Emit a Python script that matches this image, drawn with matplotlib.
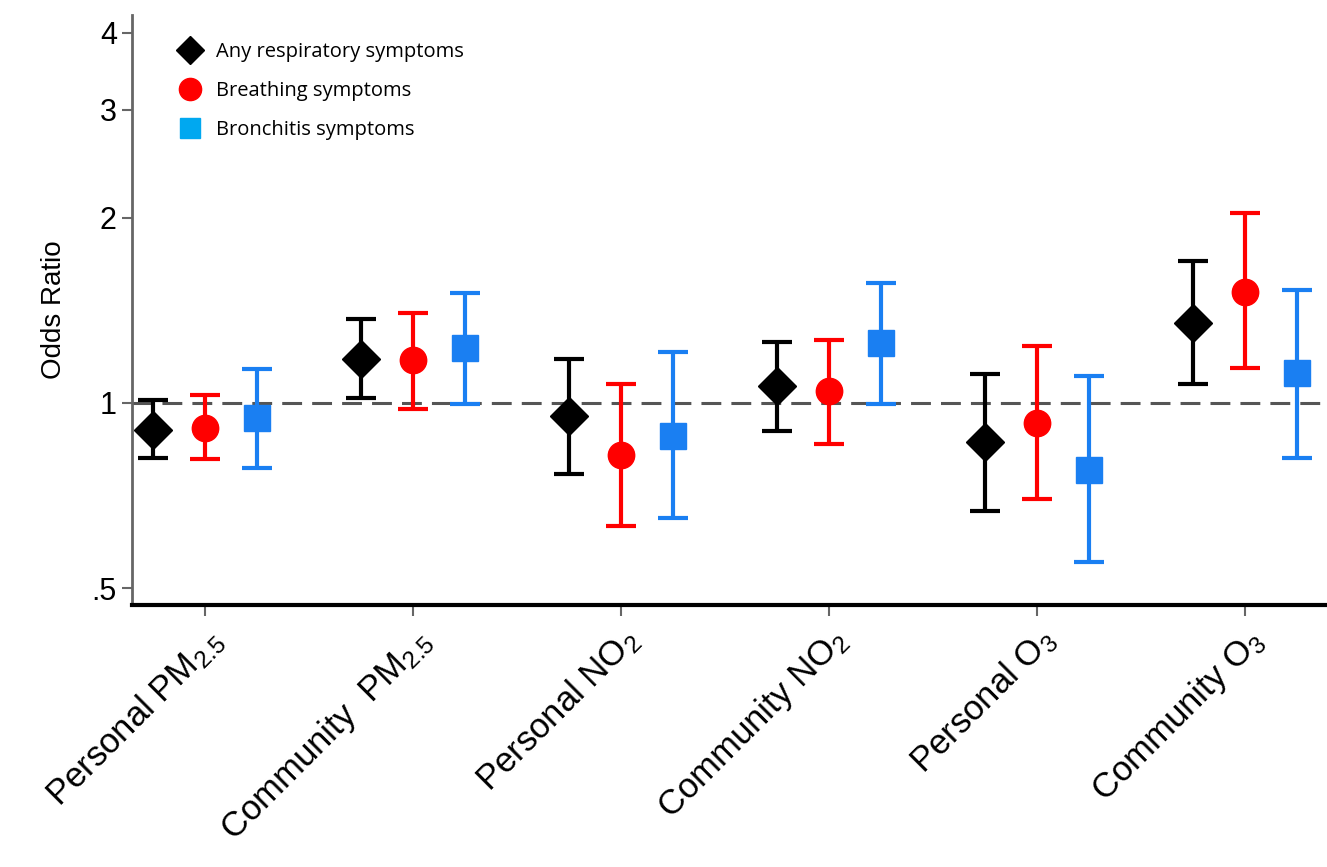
import matplotlib
matplotlib.use('Agg')
import matplotlib.pyplot as plt
import numpy as np
from matplotlib.lines import Line2D

plt.rcParams['font.family'] = ['Liberation Sans', 'DejaVu Sans']
plt.rcParams['mathtext.default'] = 'regular'

exposures = ['Personal PM$_{2.5}$', 'Community  PM$_{2.5}$', 'Personal NO$_2$',
             'Community NO$_2$', 'Personal O$_3$', 'Community O$_3$']

# odds ratios and 95% CI
any_or = [0.904, 1.179, 0.952, 1.066, 0.864, 1.349]
any_lo = [0.814, 1.02, 0.766, 0.90, 0.667, 1.074]
any_hi = [1.01, 1.37, 1.18, 1.257, 1.115, 1.702]

breath_or = [0.91, 1.175, 0.823, 1.046, 0.928, 1.515]
breath_lo = [0.81, 0.978, 0.631, 0.857, 0.698, 1.14]
breath_hi = [1.03, 1.40, 1.074, 1.266, 1.238, 2.04]

bronch_or = [0.945, 1.229, 0.884, 1.252, 0.778, 1.119]
bronch_lo = [0.784, 0.996, 0.65, 0.996, 0.551, 0.814]
bronch_hi = [1.136, 1.51, 1.21, 1.567, 1.106, 1.527]

fig = plt.figure(figsize=(13.27, 8.67), dpi=100)
ax = fig.add_axes([0.0995, 0.302, 0.899, 0.681])

x = np.arange(len(exposures))
ax.axhline(1, color='#555555', lw=2.2, ls=(0, (6.5, 3.3)), zorder=1)

series = [
    (any_or, any_lo, any_hi, -0.25, 'black', 'D', 19),
    (breath_or, breath_lo, breath_hi, 0.0, '#ff0000', 'o', 19),
    (bronch_or, bronch_lo, bronch_hi, 0.25, '#1a7ff2', 's', 19),
]
for est, lo, hi, off, col, mk, ms in series:
    est = np.array(est); lo = np.array(lo); hi = np.array(hi)
    ax.errorbar(x + off, est, yerr=[est - lo, hi - est], fmt=mk, color=col,
                ms=ms, elinewidth=3, capsize=11, capthick=3, zorder=3)

ax.set_yscale('log')
ax.set_ylim(0.469, 4.28)
ax.set_yticks([0.5, 1, 2, 3, 4])
ax.set_yticklabels(['.5', '1', '2', '3', '4'])
ax.yaxis.set_minor_locator(matplotlib.ticker.NullLocator())
ax.set_xlim(-0.351, 5.385)
ax.set_xticks(x)
ax.set_xticklabels(exposures, rotation=45, ha='right', rotation_mode='anchor')
ax.tick_params(axis='y', labelsize=22, length=7, width=1.5, color='#666666', pad=4)
ax.tick_params(axis='x', labelsize=25, length=8, width=1.5, color='#666666', pad=4)
ax.set_ylabel('Odds Ratio', fontsize=20, labelpad=18)

ax.spines['top'].set_visible(False)
ax.spines['right'].set_visible(False)
ax.spines['left'].set_color('#666666')
ax.spines['left'].set_linewidth(2)
ax.spines['bottom'].set_linewidth(3)

handles = [
    Line2D([], [], marker='D', color='black', ls='', ms=14),
    Line2D([], [], marker='o', color='#ff0000', ls='', ms=16),
    Line2D([], [], marker='s', color='#00a8f0', ls='', ms=15),
]
labels = ['Any respiratory symptoms', 'Breathing symptoms', 'Bronchitis symptoms']
ax.legend(handles, labels, loc='upper left', bbox_to_anchor=(0.02, 0.985),
          frameon=False, prop={'family': 'Open Sans', 'size': 14.5},
          handletextpad=0.5, labelspacing=0.95, handlelength=1.6)

fig.savefig('out.png', dpi=100)
